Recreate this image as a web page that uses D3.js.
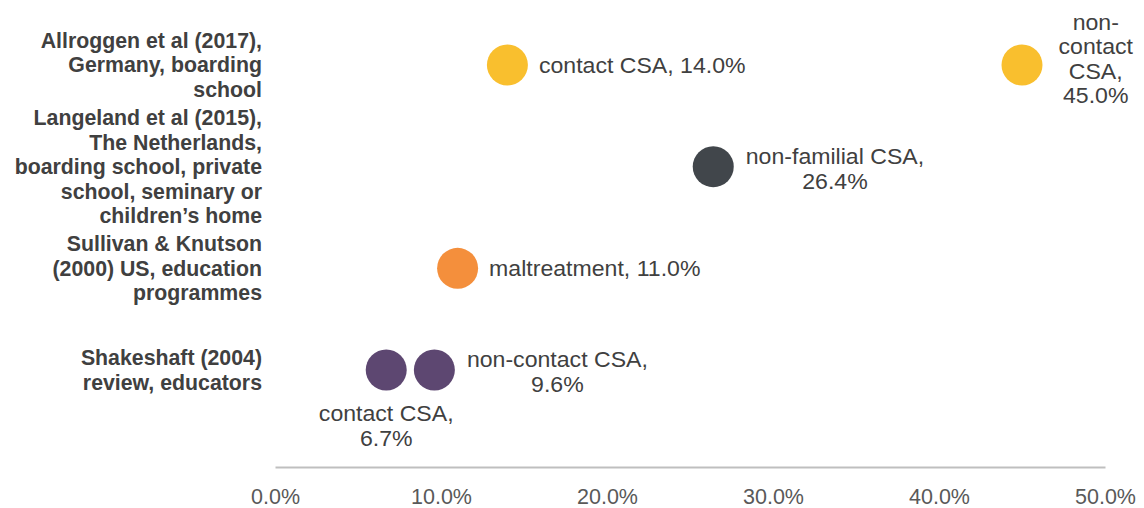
<!DOCTYPE html>
<html><head><meta charset="utf-8">
<script src="https://cdn.jsdelivr.net/npm/d3@7"></script>
<style>body{margin:0;background:#fff}svg{display:block}text{font-family:"Liberation Sans",Arial,sans-serif}</style>
</head><body><svg id="c" width="1144" height="508"></svg>
<script>
const categories = [
  ["Allroggen et al (2017),","Germany, boarding","school"],
  ["Langeland et al (2015),","The Netherlands,","boarding school, private","school, seminary or","children\u2019s home"],
  ["Sullivan & Knutson","(2000) US, education","programmes"],
  ["Shakeshaft (2004)","review, educators"]
];
const pointCategory = [0, 0, 1, 2, 3, 3];
const pointValues   = [0.14, 0.45, 0.264, 0.11, 0.067, 0.096];
const pointLabels   = [
  ["contact CSA, 14.0%"],
  ["non-","contact","CSA,","45.0%"],
  ["non-familial CSA,","26.4%"],
  ["maltreatment, 11.0%"],
  ["contact CSA,","6.7%"],
  ["non-contact CSA,","9.6%"]
];
const tickValues = [0, 0.1, 0.2, 0.3, 0.4, 0.5];

// styling / placement (not data)
const catColors = ["#F9BF2E", "#41464B", "#F48F3C", "#5D4771"];
const placement = ["right", "rightBlock", "rightBlock", "right", "below", "rightBlock"];

const svg = d3.select("#c");
const x = d3.scaleLinear().domain([0, 0.5]).range([275, 1105]);
const y = d3.scalePoint().domain(d3.range(categories.length)).range([65, 370]);
const R = 20.5, LH = 24.5, FS = 22, SX = 1.05;

// axis
const ax = svg.append("g").attr("transform","translate(0,467)")
  .call(d3.axisBottom(x).tickValues(tickValues).tickFormat(d3.format(".1%")).tickSize(0).tickSizeOuter(0).tickPadding(22));
ax.select(".domain").attr("stroke","#BFBFBF").attr("stroke-width",2);
ax.selectAll("text").attr("font-size",21.5).attr("fill","#595959").style("font-family","'Liberation Sans',Arial,sans-serif");

// category labels
categories.forEach((lines,i)=>{
  const cy = y(i);
  const t = svg.append("text").attr("text-anchor","end").attr("font-size",21.3).attr("font-weight","bold").attr("fill","#404040");
  lines.forEach((l,j)=>{
    t.append("tspan").attr("x",262).attr("y", cy + (j-(lines.length-1)/2)*LH).attr("dy","0.35em").text(l);
  });
});

// points
pointValues.forEach((v,i)=>{
  const cx = x(v), cy = y(pointCategory[i]);
  svg.append("circle").attr("cx",cx).attr("cy",cy).attr("r",R).attr("fill",catColors[pointCategory[i]]);
  const lines = pointLabels[i];
  const p = placement[i];
  let ax0, ay0, anchor, offs;
  if (p === "right") {
    anchor = "start"; ax0 = cx + R + 11; ay0 = cy; offs = [0];
  } else if (p === "rightBlock") {
    anchor = "middle";
    const tmp = svg.append("text").attr("font-size",FS);
    const w = SX * d3.max(lines, l => { tmp.text(l); return tmp.node().getComputedTextLength(); });
    tmp.remove();
    const gap = lines.length > 2 ? 16 : 12;
    ax0 = cx + R + gap + w/2;
    ay0 = cy + (lines.length > 2 ? -6 : 2);
    offs = lines.map((l,j)=>(j-(lines.length-1)/2)*LH);
  } else {
    anchor = "middle"; ax0 = cx; ay0 = cy + 43; offs = lines.map((l,j)=>j*25.5);
  }
  const g = svg.append("g").attr("transform",`translate(${ax0},${ay0}) scale(${SX},1)`);
  const t = g.append("text").attr("font-size",FS).attr("fill","#404040").attr("text-anchor",anchor);
  lines.forEach((l,j)=>{
    t.append("tspan").attr("x",0).attr("y",offs[j]).attr("dy","0.35em").text(l);
  });
});
</script></body></html>
